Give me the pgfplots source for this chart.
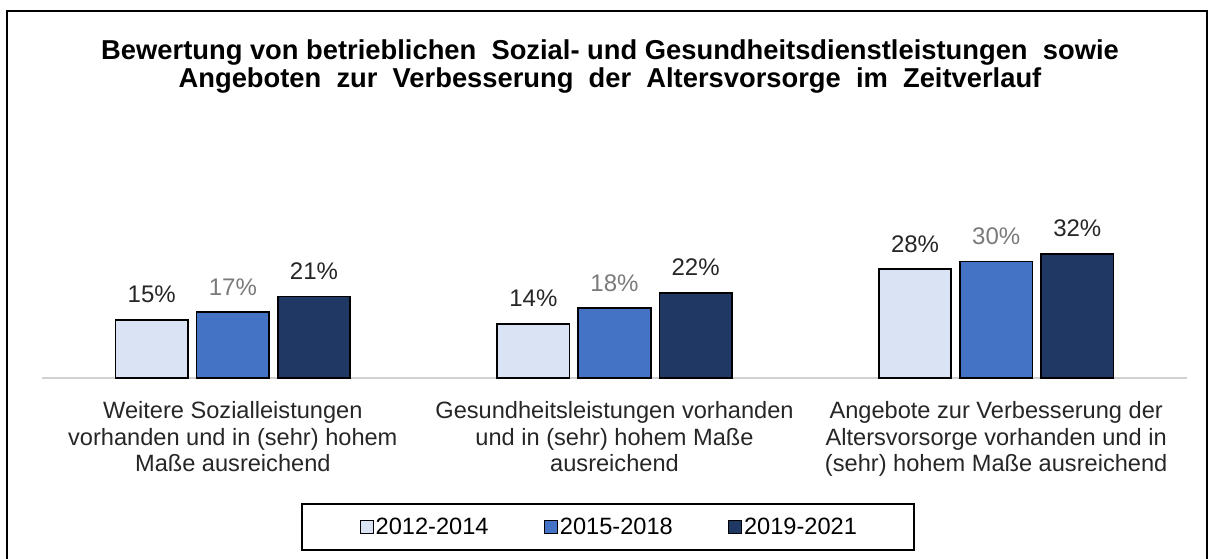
\documentclass[border=0pt]{standalone}
\usepackage{pgfplots}
\pgfplotsset{compat=1.18}
\usepackage{fontspec}
\setmainfont{Liberation Sans}
\definecolor{c1}{HTML}{DAE3F3}
\definecolor{c2}{HTML}{4472C4}
\definecolor{c3}{HTML}{203864}
\definecolor{txt}{HTML}{262626}
\definecolor{gtxt}{HTML}{7A7A7A}
\begin{document}
\begin{tikzpicture}
\begin{scope}[x=0.75pt,y=-0.75pt]
\path[use as bounding box] (0,0) rectangle (1210,559);
\draw[line width=1.5pt] (7,560) -- (7,11) -- (1207,11) -- (1207,560);
\node[font=\bfseries\fontsize{20.5}{21}\selectfont, align=center, text=black, anchor=north, inner sep=0pt] at (610,39) {Bewertung von betrieblichen\ \ Sozial- und Gesundheitsdienstleistungen\ \ sowie\\Angeboten\ \ zur\ \ Verbesserung\ \ der\ \ Altersvorsorge\ \ im\ \ Zeitverlauf};
\draw[line width=1.2pt] (302,504) rectangle (914,550);
\end{scope}
\begin{axis}[
  at={(31.5pt,-283.5pt)}, anchor=south west,
  scale only axis, width=858.75pt, height=116.4pt,
  xmin=-0.5, xmax=2.5, ymin=0, ymax=40,
  hide y axis,
  axis x line*=bottom,
  x axis line style={draw=black!18, line width=1.5pt, -},
  ybar, bar width=0.19,
  xtick={0,1,2},
  xticklabels={{Weitere Sozialleistungen\\vorhanden und in (sehr) hohem\\Maße ausreichend},
               {Gesundheitsleistungen vorhanden\\und in (sehr) hohem Maße\\ausreichend},
               {Angebote zur Verbesserung der\\Altersvorsorge vorhanden und in\\(sehr) hohem Maße ausreichend}},
  major tick length=0pt,
  xticklabel style={font=\fontsize{17.7}{19.9}\selectfont, align=center, text=txt, inner sep=0pt, anchor=north, yshift=-17.6pt},
  /pgf/number format/assume math mode=true,
  nodes near coords={\pgfmathprintnumber{\pgfplotspointmeta}\%},
  every node near coord/.append style={font=\fontsize{18}{18}\selectfont, inner sep=0pt, anchor=south, yshift=12pt},
  legend style={draw=none, fill=none, at={(0.4955,-0.960)}, anchor=center, legend columns=3,
    /tikz/every even column/.append style={column sep=40pt},
    nodes={inner sep=1.5pt},
    font=\fontsize{17.7}{17.7}\selectfont, text=black},
  legend image code/.code={\draw[#1,line width=0.75pt] (0pt,-4.9pt) rectangle (9.75pt,4.9pt);},
  clip=false,
]
\addplot[fill=c1, draw=black, line width=1.3pt, bar shift=-0.2126, every node near coord/.append style={text=txt}] coordinates {(0,15) (1,14) (2,28)};
\addplot[fill=c2, draw=black, line width=1.3pt, bar shift=0, every node near coord/.append style={text=gtxt}] coordinates {(0,17) (1,18) (2,30)};
\addplot[fill=c3, draw=black, line width=1.3pt, bar shift=0.2126, every node near coord/.append style={text=txt}] coordinates {(0,21) (1,22) (2,32)};
\legend{2012-2014,2015-2018,2019-2021}
\end{axis}
\end{tikzpicture}
\end{document}
